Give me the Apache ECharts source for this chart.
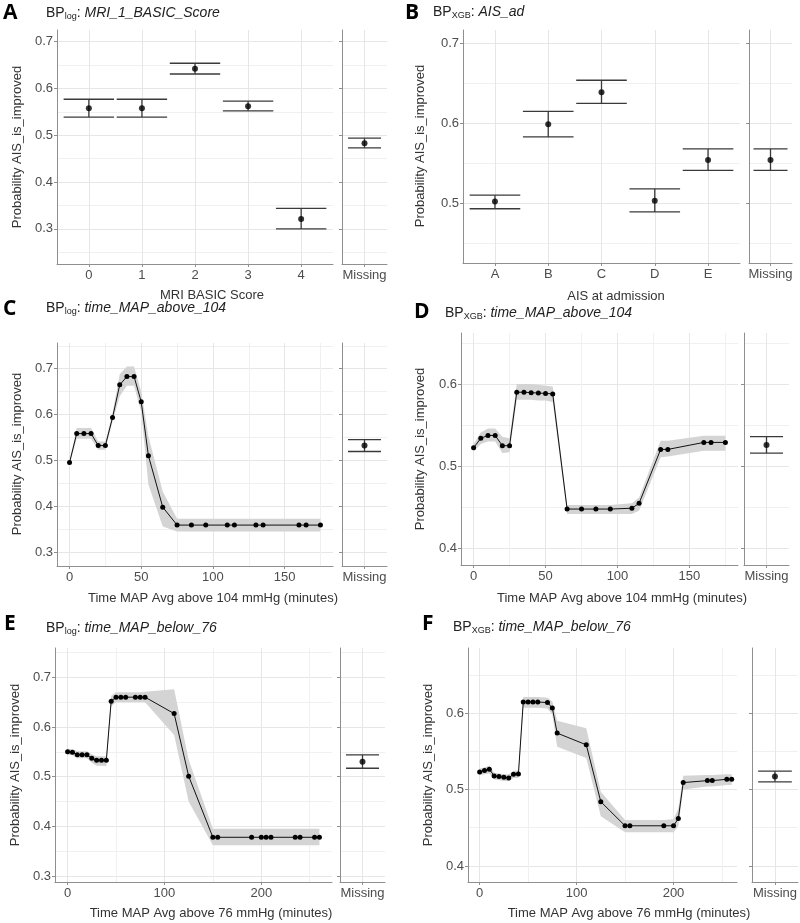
<!DOCTYPE html>
<html><head><meta charset="utf-8">
<script src="https://cdn.jsdelivr.net/npm/echarts@6/dist/echarts.min.js"></script>
<style>html,body{margin:0;padding:0;background:#fff}#c{width:800px;height:923px}</style>
</head><body><div id="c"></div>
<script>
// ================= DATA =================
// Panel A: BP_log MRI_1_BASIC_Score
const aCats = ['0', '1', '2', '3', '4'];
const aMean = [0.558, 0.558, 0.642, 0.562, 0.321];
const aLow  = [0.539, 0.539, 0.631, 0.552, 0.300];
const aHigh = [0.577, 0.577, 0.654, 0.573, 0.344];
const aMissing = [0.483, 0.473, 0.494]; // mean, low, high

// Panel B: BP_XGB AIS_ad
const bCats = ['A', 'B', 'C', 'D', 'E'];
const bMean = [0.502, 0.599, 0.639, 0.503, 0.554];
const bLow  = [0.493, 0.583, 0.625, 0.489, 0.541];
const bHigh = [0.510, 0.615, 0.654, 0.518, 0.568];
const bMissing = [0.554, 0.541, 0.568];

// Panel C: BP_log time_MAP_above_104
const cX    = [0, 5, 10, 15, 20, 25, 30, 35, 40, 45, 50, 55, 65, 75, 85, 95, 110, 115, 130, 135, 160, 165, 175];
const cY    = [0.496, 0.559, 0.559, 0.559, 0.533, 0.533, 0.594, 0.665, 0.683, 0.683, 0.628, 0.511, 0.399, 0.360, 0.360, 0.360, 0.360, 0.360, 0.360, 0.360, 0.360, 0.360, 0.360];
const cLow  = [0.492, 0.548, 0.548, 0.548, 0.524, 0.524, 0.585, 0.640, 0.663, 0.663, 0.606, 0.448, 0.357, 0.346, 0.346, 0.346, 0.346, 0.346, 0.346, 0.346, 0.346, 0.346, 0.346];
const cHigh = [0.499, 0.571, 0.571, 0.571, 0.542, 0.542, 0.604, 0.688, 0.705, 0.705, 0.650, 0.553, 0.433, 0.374, 0.374, 0.374, 0.374, 0.374, 0.374, 0.374, 0.374, 0.374, 0.374];
const cMissing = [0.533, 0.520, 0.546];

// Panel D: BP_XGB time_MAP_above_104
const dX    = [0, 5, 10, 15, 20, 25, 30, 35, 40, 45, 50, 55, 65, 75, 85, 95, 110, 115, 130, 135, 160, 165, 175];
const dY    = [0.5225, 0.534, 0.5375, 0.5375, 0.525, 0.525, 0.590, 0.590, 0.5895, 0.589, 0.5885, 0.588, 0.448, 0.448, 0.448, 0.448, 0.449, 0.455, 0.5205, 0.5205, 0.529, 0.529, 0.529];
const dLow  = [0.518, 0.527, 0.530, 0.530, 0.516, 0.517, 0.581, 0.581, 0.581, 0.580, 0.580, 0.578, 0.442, 0.442, 0.442, 0.442, 0.442, 0.446, 0.511, 0.512, 0.519, 0.519, 0.519];
const dHigh = [0.527, 0.541, 0.546, 0.546, 0.536, 0.534, 0.600, 0.600, 0.600, 0.599, 0.598, 0.597, 0.453, 0.453, 0.453, 0.453, 0.455, 0.462, 0.531, 0.531, 0.537, 0.537, 0.537];
const dMissing = [0.526, 0.516, 0.536];

// Panel E: BP_log time_MAP_below_76
const eX    = [0, 5, 10, 15, 20, 25, 30, 35, 40, 45, 50, 55, 60, 70, 75, 80, 110, 125, 150, 155, 190, 200, 205, 210, 235, 240, 255, 260];
const eY    = [0.550, 0.549, 0.544, 0.544, 0.544, 0.537, 0.533, 0.533, 0.533, 0.652, 0.660, 0.660, 0.660, 0.660, 0.660, 0.660, 0.627, 0.501, 0.378, 0.378, 0.378, 0.378, 0.378, 0.378, 0.378, 0.378, 0.378, 0.378];
const eLow  = [0.544, 0.543, 0.537, 0.537, 0.537, 0.528, 0.522, 0.522, 0.521, 0.642, 0.650, 0.650, 0.650, 0.650, 0.650, 0.650, 0.584, 0.450, 0.362, 0.362, 0.362, 0.362, 0.362, 0.362, 0.362, 0.362, 0.362, 0.362];
const eHigh = [0.556, 0.555, 0.551, 0.551, 0.551, 0.545, 0.541, 0.541, 0.541, 0.663, 0.670, 0.670, 0.670, 0.670, 0.670, 0.671, 0.676, 0.534, 0.395, 0.395, 0.395, 0.395, 0.395, 0.395, 0.395, 0.395, 0.395, 0.395];
const eMissing = [0.530, 0.517, 0.544];

// Panel F: BP_XGB time_MAP_below_76
const fX    = [0, 5, 10, 15, 20, 25, 30, 35, 40, 45, 50, 55, 60, 70, 75, 80, 110, 125, 150, 155, 190, 200, 205, 210, 235, 240, 255, 260];
const fY    = [0.523, 0.5247, 0.5265, 0.5177, 0.5168, 0.516, 0.5151, 0.520, 0.5203, 0.6144, 0.6144, 0.6144, 0.6144, 0.6136, 0.6066, 0.5737, 0.5584, 0.484, 0.4525, 0.4525, 0.4525, 0.4525, 0.4621, 0.509, 0.5116, 0.5116, 0.5133, 0.5133];
const fLow  = [0.519, 0.520, 0.521, 0.513, 0.512, 0.511, 0.511, 0.515, 0.515, 0.607, 0.607, 0.607, 0.607, 0.606, 0.598, 0.556, 0.541, 0.465, 0.444, 0.444, 0.444, 0.444, 0.452, 0.500, 0.504, 0.504, 0.506, 0.506];
const fHigh = [0.527, 0.529, 0.531, 0.522, 0.521, 0.520, 0.520, 0.524, 0.525, 0.621, 0.621, 0.621, 0.621, 0.620, 0.615, 0.590, 0.580, 0.497, 0.460, 0.460, 0.460, 0.461, 0.475, 0.518, 0.519, 0.519, 0.520, 0.520];
const fMissing = [0.517, 0.510, 0.524];

// Tick labels
const yTicksLog = [0.3, 0.4, 0.5, 0.6, 0.7];
const yTicksB = [0.5, 0.6, 0.7];
const yTicksXGB = [0.4, 0.5, 0.6];
const xTicks104 = [0, 50, 100, 150];
const xTicks76 = [0, 100, 200];
const missingLabel = ['Missing'];

const yTitle = 'Probability AIS_is_improved';

// ================= BUILD =================
const FONT = '"Liberation Sans", Arial, sans-serif';
const AXIS = '#8f8f8f';
const grids = [], xAxes = [], yAxes = [], series = [], graphics = [];

function steps(a, b, st) { const r = []; const n = Math.round((b - a) / st); for (let i = 0; i <= n; i++) r.push(+(a + i * st).toFixed(4)); return r; }
function inRange(arr, mn, mx) { return arr.filter(v => v >= mn && v <= mx); }

function addGrid(g, xr, xMaj, xMin, xFmt, yr, yMaj, yMin, showYLabels) {
  const gi = grids.length;
  grids.push({ left: g.left, top: g.top, width: g.width, height: g.height, containLabel: false });
  xAxes.push({ type: 'value', gridIndex: gi, position: 'top', min: xr[0], max: xr[1],
    axisLine: { show: false }, axisLabel: { show: false },
    axisTick: { show: false, customValues: inRange(xMin, xr[0], xr[1]) },
    splitLine: { show: xMin.length > 0, lineStyle: { color: '#f0f0f0', width: 1 } } });
  const xl = xAxes.length;
  xAxes.push({ type: 'value', gridIndex: gi, position: 'bottom', min: xr[0], max: xr[1],
    axisLine: { show: true, onZero: false, lineStyle: { color: AXIS, width: 1 } },
    axisTick: { show: true, length: 3, customValues: xMaj, lineStyle: { color: AXIS } },
    axisLabel: { customValues: xMaj, formatter: xFmt, color: '#4d4d4d', fontSize: 13, fontFamily: FONT, margin: 5 },
    splitLine: { show: true, lineStyle: { color: '#e6e6e6', width: 1 } } });
  yAxes.push({ type: 'value', gridIndex: gi, position: 'right', min: yr[0], max: yr[1],
    axisLine: { show: false }, axisLabel: { show: false },
    axisTick: { show: false, customValues: inRange(yMin, yr[0], yr[1]) },
    splitLine: { show: true, lineStyle: { color: '#f0f0f0', width: 1 } } });
  const yl = yAxes.length;
  yAxes.push({ type: 'value', gridIndex: gi, position: 'left', min: yr[0], max: yr[1],
    axisLine: { show: true, onZero: false, lineStyle: { color: AXIS, width: 1 } },
    axisTick: { show: true, length: 3, customValues: yMaj, lineStyle: { color: AXIS } },
    axisLabel: { show: showYLabels, customValues: yMaj, formatter: v => v.toFixed(1), color: '#4d4d4d', fontSize: 13, fontFamily: FONT, margin: 4 },
    splitLine: { show: true, lineStyle: { color: '#e6e6e6', width: 1 } } });
  return { xl, yl };
}

function errorBars(ax, xs, mean, low, high, capW) {
  const data = xs.map((x, i) => [x, mean[i], low[i], high[i]]);
  series.push({
    type: 'custom', xAxisIndex: ax.xl, yAxisIndex: ax.yl, data: data,
    encode: { x: 0, y: [1, 2, 3] },
    renderItem: function (params, api) {
      const x = api.value(0);
      const pl = api.coord([x, api.value(2)]);
      const ph = api.coord([x, api.value(3)]);
      const hw = api.size([capW, 0])[0] / 2;
      const st = { stroke: '#3a3a3a', lineWidth: 1.3 };
      return { type: 'group', children: [
        { type: 'line', shape: { x1: pl[0], y1: pl[1], x2: ph[0], y2: ph[1] }, style: st },
        { type: 'line', shape: { x1: pl[0] - hw, y1: pl[1], x2: pl[0] + hw, y2: pl[1] }, style: st },
        { type: 'line', shape: { x1: ph[0] - hw, y1: ph[1], x2: ph[0] + hw, y2: ph[1] }, style: st }
      ] };
    }
  });
  series.push({ type: 'scatter', xAxisIndex: ax.xl, yAxisIndex: ax.yl, symbolSize: 6,
    itemStyle: { color: '#000' }, data: xs.map((x, i) => [x, mean[i]]) });
}

function ribbonLine(ax, xs, ys, lo, hi) {
  const data = xs.map((x, i) => [x, lo[i], hi[i]]);
  series.push({
    type: 'custom', xAxisIndex: ax.xl, yAxisIndex: ax.yl, data: data,
    encode: { x: 0, y: [1, 2] },
    renderItem: function (params, api) {
      if (params.dataIndex !== 0) return null;
      const up = data.map(d => api.coord([d[0], d[2]]));
      const dn = data.map(d => api.coord([d[0], d[1]])).reverse();
      return { type: 'polygon', shape: { points: up.concat(dn) }, style: { fill: '#d4d4d4' } };
    }
  });
  series.push({ type: 'line', xAxisIndex: ax.xl, yAxisIndex: ax.yl, data: xs.map((x, i) => [x, ys[i]]),
    symbol: 'circle', symbolSize: 5, showSymbol: true,
    lineStyle: { color: '#111', width: 1 }, itemStyle: { color: '#000' } });
}

const catFmt = cats => (v => cats[Math.round(v)] !== undefined ? cats[Math.round(v)] : '');
const missFmt = () => missingLabel[0];
const idx5 = [0, 1, 2, 3, 4];

function addTitle(letter, lx, ly, tx, ty, sub, name) {
  graphics.push({ type: 'text', x: lx, y: ly, style: { text: letter, font: 'bold 21px "Open Sans", "DejaVu Sans", sans-serif', fill: '#000' } });
  graphics.push({ type: 'text', x: tx, y: ty, style: {
    text: '{n|BP}{s|' + sub + '}{n|: }{i|' + name + '}', verticalAlign: 'middle',
    rich: {
      n: { fontSize: 14, fontFamily: FONT, fill: '#222', lineHeight: 16, verticalAlign: 'middle' },
      s: { fontSize: 9, fontFamily: FONT, fill: '#222', lineHeight: 16, verticalAlign: 'bottom' },
      i: { fontSize: 14, fontFamily: FONT, fontStyle: 'italic', fill: '#222', lineHeight: 16, verticalAlign: 'middle' }
    } } });
}
function addYTitle(x, y) {
  graphics.push({ type: 'text', x: x, y: y, rotation: Math.PI / 2, style: { text: yTitle, align: 'center', verticalAlign: 'middle', font: '13px ' + FONT, fill: '#333' } });
}
function addXTitle(x, y, t) {
  graphics.push({ type: 'text', x: x, y: y, style: { text: t, align: 'center', verticalAlign: 'middle', font: '13px ' + FONT, fill: '#333' } });
}

// ---- Panel A ----
let ax = addGrid({ left: 57, top: 30, width: 276, height: 234 }, [-0.6, 4.6], idx5, [], catFmt(aCats),
  [0.225, 0.725], yTicksLog, steps(0.25, 0.75, 0.1), true);
errorBars(ax, idx5, aMean, aLow, aHigh, 0.95);
ax = addGrid({ left: 342, top: 30, width: 45, height: 234 }, [-0.6, 0.6], [0], [], missFmt,
  [0.225, 0.725], yTicksLog, steps(0.25, 0.75, 0.1), false);
errorBars(ax, [0], [aMissing[0]], [aMissing[1]], [aMissing[2]], 0.88);
addTitle('A', 3, 3, 46, 13, 'log', 'MRI_1_BASIC_Score');
addYTitle(17, 147);
addXTitle(212, 295, 'MRI BASIC Score');

// ---- Panel B ----
ax = addGrid({ left: 463, top: 30, width: 277, height: 233 }, [-0.6, 4.6], idx5, [], catFmt(bCats),
  [0.425, 0.717], yTicksB, steps(0.45, 0.65, 0.1), true);
errorBars(ax, idx5, bMean, bLow, bHigh, 0.95);
ax = addGrid({ left: 749, top: 30, width: 43, height: 233 }, [-0.6, 0.6], [0], [], missFmt,
  [0.425, 0.717], yTicksB, steps(0.45, 0.65, 0.1), false);
errorBars(ax, [0], [bMissing[0]], [bMissing[1]], [bMissing[2]], 0.95);
addTitle('B', 405, 3, 433, 12, 'XGB', 'AIS_ad');
addYTitle(420, 146);
addXTitle(616, 296, 'AIS at admission');

// ---- Panel C ----
ax = addGrid({ left: 57, top: 343, width: 276, height: 223 }, [-8.75, 183.75], xTicks104, [25, 75, 125, 175], String,
  [0.271, 0.756], yTicksLog, steps(0.35, 0.75, 0.1), true);
ribbonLine(ax, cX, cY, cLow, cHigh);
ax = addGrid({ left: 342, top: 343, width: 45, height: 223 }, [-0.6, 0.6], [0], [], missFmt,
  [0.271, 0.756], yTicksLog, steps(0.35, 0.75, 0.1), false);
errorBars(ax, [0], [cMissing[0]], [cMissing[1]], [cMissing[2]], 0.88);
addTitle('C', 3, 299, 46, 308, 'log', 'time_MAP_above_104');
addYTitle(17, 454);
addXTitle(213, 598, 'Time MAP Avg above 104 mmHg (minutes)');

// ---- Panel D ----
ax = addGrid({ left: 461, top: 333, width: 277, height: 232 }, [-8.75, 183.75], xTicks104, [25, 75, 125, 175], String,
  [0.380, 0.662], yTicksXGB, steps(0.45, 0.65, 0.1), true);
ribbonLine(ax, dX, dY, dLow, dHigh);
ax = addGrid({ left: 744, top: 333, width: 45, height: 232 }, [-0.6, 0.6], [0], [], missFmt,
  [0.380, 0.662], yTicksXGB, steps(0.45, 0.65, 0.1), false);
errorBars(ax, [0], [dMissing[0]], [dMissing[1]], [dMissing[2]], 0.88);
addTitle('D', 414, 302, 445, 313, 'XGB', 'time_MAP_above_104');
addYTitle(420, 449);
addXTitle(622, 598, 'Time MAP Avg above 104 mmHg (minutes)');

// ---- Panel E ----
ax = addGrid({ left: 55, top: 648, width: 277, height: 234 }, [-13, 273], xTicks76, [50, 150, 250], String,
  [0.288, 0.759], yTicksLog, steps(0.35, 0.75, 0.1), true);
ribbonLine(ax, eX, eY, eLow, eHigh);
ax = addGrid({ left: 340, top: 648, width: 45, height: 234 }, [-0.6, 0.6], [0], [], missFmt,
  [0.288, 0.759], yTicksLog, steps(0.35, 0.75, 0.1), false);
errorBars(ax, [0], [eMissing[0]], [eMissing[1]], [eMissing[2]], 0.88);
addTitle('E', 4, 614, 46, 628, 'log', 'time_MAP_below_76');
addYTitle(15, 765);
addXTitle(211, 913, 'Time MAP Avg above 76 mmHg (minutes)');

// ---- Panel F ----
ax = addGrid({ left: 468, top: 648, width: 269, height: 234 }, [-12, 265.5], xTicks76, [50, 150, 250], String,
  [0.379, 0.685], yTicksXGB, steps(0.45, 0.65, 0.1), true);
ribbonLine(ax, fX, fY, fLow, fHigh);
ax = addGrid({ left: 752, top: 648, width: 46, height: 234 }, [-0.6, 0.6], [0], [], missFmt,
  [0.379, 0.685], yTicksXGB, steps(0.45, 0.65, 0.1), false);
errorBars(ax, [0], [fMissing[0]], [fMissing[1]], [fMissing[2]], 0.88);
addTitle('F', 422, 614, 453, 627, 'XGB', 'time_MAP_below_76');
addYTitle(428, 765);
addXTitle(629, 913, 'Time MAP Avg above 76 mmHg (minutes)');

const chart = echarts.init(document.getElementById('c'), null, { renderer: 'canvas' });
chart.setOption({
  animation: false,
  backgroundColor: '#fff',
  grid: grids, xAxis: xAxes, yAxis: yAxes, series: series, graphic: graphics
});
</script>
</body></html>
